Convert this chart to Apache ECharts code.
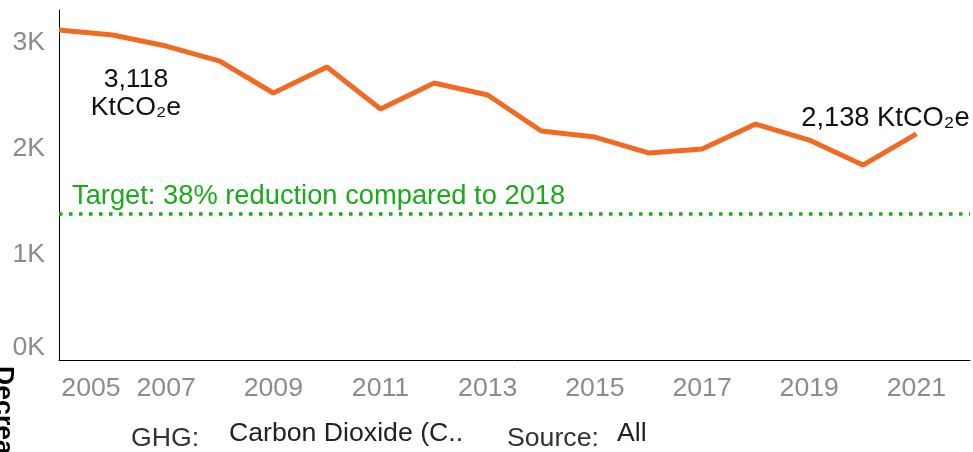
<!DOCTYPE html>
<html>
<head>
<meta charset="utf-8">
<script src="https://cdn.jsdelivr.net/npm/echarts@6/dist/echarts.min.js"></script>
<style>
html,body{margin:0;padding:0;background:#fff;}
#chart{width:973px;height:452px;}
</style>
</head>
<body>
<div id="chart"></div>
<script>
var years = [2005,2006,2007,2008,2009,2010,2011,2012,2013,2014,2015,2016,2017,2018,2019,2020,2021];
var emissions = [3118,3071,2967,2825,2524,2769,2373,2618,2505,2165,2108,1958,1995,2231,2080,1844,2138];
var yTicks = [0,1000,2000,3000];
var targetReduction = 0.38;
var baseYear = 2018;
var unit = 'KtCO\u2082e';

var FONT = '"Liberation Sans", Arial, sans-serif';
var FS = 26.67;
var FS2 = 27.3;
var target = emissions[years.indexOf(baseYear)] * (1 - targetReduction);

function fmt(v){ return Math.round(v).toLocaleString('en-US'); }

var lineData = years.map(function(y, i){
  var d = { value: [y, emissions[i]] };
  if (i === 0) {
    d.label = { show: true, position: 'bottom', distance: 36, offset: [77, 0], align: 'center',
      formatter: fmt(emissions[i]) + '\n' + unit, lineHeight: 28 };
  } else if (i === years.length - 1) {
    d.label = { show: true, position: 'top', distance: 2, offset: [-31, 0], align: 'center',
      formatter: fmt(emissions[i]) + ' ' + unit, fontSize: FS2 };
  }
  return d;
});

var chart = echarts.init(document.getElementById('chart'));
chart.setOption({
  animation: false,
  backgroundColor: '#ffffff',
  textStyle: { fontFamily: FONT },
  grid: { left: 59, right: 0, top: 10, bottom: 91.5, containLabel: false },
  xAxis: {
    type: 'value', min: 2005, max: 2022, interval: 1,
    axisLine: { show: true, onZero: false, lineStyle: { color: '#000', width: 1 } },
    axisTick: { show: false },
    splitLine: { show: false },
    axisLabel: {
      color: '#8c8c8c', fontSize: FS, fontFamily: FONT, margin: 15,
      formatter: function(v){
        if (v === years[0]) return '{f|' + v + '}';
        return (v % 2 === 1 && v <= years[years.length-1]) ? String(v) : '';
      },
      rich: { f: { color: '#8c8c8c', fontSize: FS, fontFamily: FONT, padding: [0,0,0,64] } }
    }
  },
  yAxis: {
    type: 'value', min: 0, max: 3307, interval: 1000,
    axisLine: { show: true, lineStyle: { color: '#000', width: 1 } },
    axisTick: { show: false },
    splitLine: { show: false },
    axisLabel: {
      color: '#8c8c8c', fontSize: FS, fontFamily: FONT, margin: 14,
      showMaxLabel: false,
      formatter: function(v){
        if (yTicks.indexOf(v) < 0) return '';
        if (v === 0) return '{z|0K}';
        return (v/1000) + 'K';
      },
      rich: { z: { color: '#8c8c8c', fontSize: FS, fontFamily: FONT, padding: [0,0,26,0] } }
    }
  },
  series: [{
    type: 'line',
    data: lineData,
    symbol: 'circle', symbolSize: 0, showSymbol: true,
    lineStyle: { color: '#f26a21', width: 5 },
    itemStyle: { color: '#f26a21' },
    label: { show: false, color: '#111', fontSize: FS, fontFamily: FONT },
    markLine: {
      silent: true, symbol: ['none','none'],
      lineStyle: { color: '#19ab19', width: 3.5, type: [3.5, 6.5] },
      label: {
        show: true, position: 'insideStartTop', distance: [13, 4],
        color: '#19ab19', fontSize: FS2, fontFamily: FONT,
        formatter: 'Target: ' + Math.round(targetReduction*100) + '% reduction compared to ' + baseYear
      },
      data: [{ yAxis: target }]
    }
  }],
  graphic: [
    { type: 'text', left: 131, top: 425, style: { text: 'GHG:', fill: '#333', font: FS + 'px ' + FONT } },
    { type: 'text', left: 229, top: 420, style: { text: 'Carbon Dioxide (C..', fill: '#222', font: FS + 'px ' + FONT } },
    { type: 'text', left: 507, top: 425, style: { text: 'Source:', fill: '#333', font: FS + 'px ' + FONT } },
    { type: 'text', left: 617, top: 420, style: { text: 'All', fill: '#222', font: FS + 'px ' + FONT } },
    { type: 'text', x: -10, y: 366, rotation: -Math.PI/2, style: { text: 'Decrease', fill: '#000', font: 'bold ' + FS + 'px ' + FONT, textVerticalAlign: 'bottom' } }
  ]
});
</script>
</body>
</html>
